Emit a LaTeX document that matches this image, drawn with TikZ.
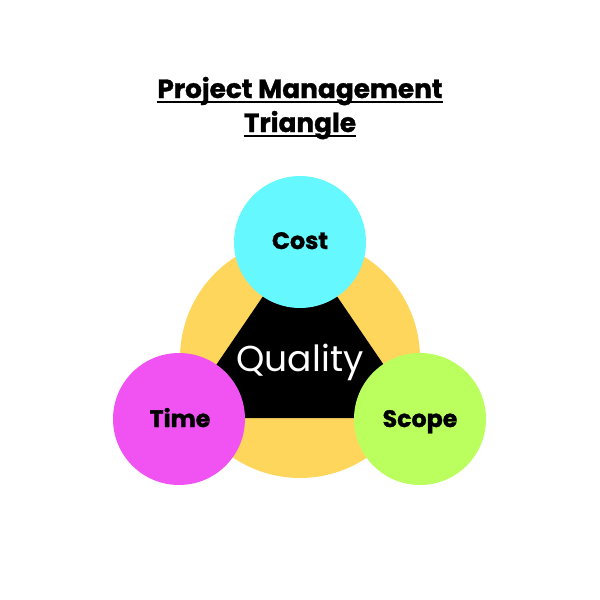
\documentclass[tikz,border=0pt]{standalone}
\usepackage{fontspec}
\setmainfont{Poppins}
\newfontfamily\heavyfont{Poppins}[BoldFeatures={FakeBold=1.2}]
\definecolor{pmyellow}{HTML}{FFD65C}
\definecolor{pmcyan}{HTML}{66F8FF}
\definecolor{pmpink}{HTML}{F153F3}
\definecolor{pmgreen}{HTML}{BAFF5E}
\tikzset{
  ball/.style={circle, inner sep=0pt, minimum size=2.64cm},
  lbl/.style={font=\fontsize{13.5}{16}\selectfont\heavyfont\bfseries, text=black, anchor=base},
  ttl/.style={font=\fontsize{15}{19}\selectfont\heavyfont\bfseries, text=black, anchor=base, inner sep=0pt},
  uline/.style={line width=1.5pt, black}
}
\begin{document}
\begin{tikzpicture}[x=0.02cm, y=-0.02cm]
\useasboundingbox (0,0) rectangle (600,600);
\fill[white] (0,0) rectangle (600,600);
\node[ttl] (title1) at (300,98) {Project Management\ };
\node[ttl] (title2) at (300,132) {Triangle};
\draw[uline] ([yshift=-2.2pt]title1.base west) -- ([yshift=-2.2pt]title1.base east);
\draw[uline] ([yshift=-2.2pt]title2.base west) -- ([yshift=-2.2pt]title2.base east);
\node[circle, inner sep=0pt, minimum size=4.8cm, fill=pmyellow] (base) at (300,358) {};
\coordinate (vc) at (300,242);
\coordinate (vt) at (180,418);
\coordinate (vs) at (420,418);
\fill[black] (vc) -- (vt) -- (vs) -- cycle;
\node[font=\fontsize{20.5}{24}\selectfont, text=white, anchor=base] (quality) at (300,371) {Quality};
\node[ball, fill=pmcyan] (cost) at (vc) {};
\node[ball, fill=pmpink] (time) at (179,419) {};
\node[ball, fill=pmgreen] (scope) at (420,419) {};
\node[lbl] (costl) at (300,249) {Cost};
\node[lbl] (timel) at (180,427) {Time};
\node[lbl] (scopel) at (420,427) {Scope};
\end{tikzpicture}
\end{document}
